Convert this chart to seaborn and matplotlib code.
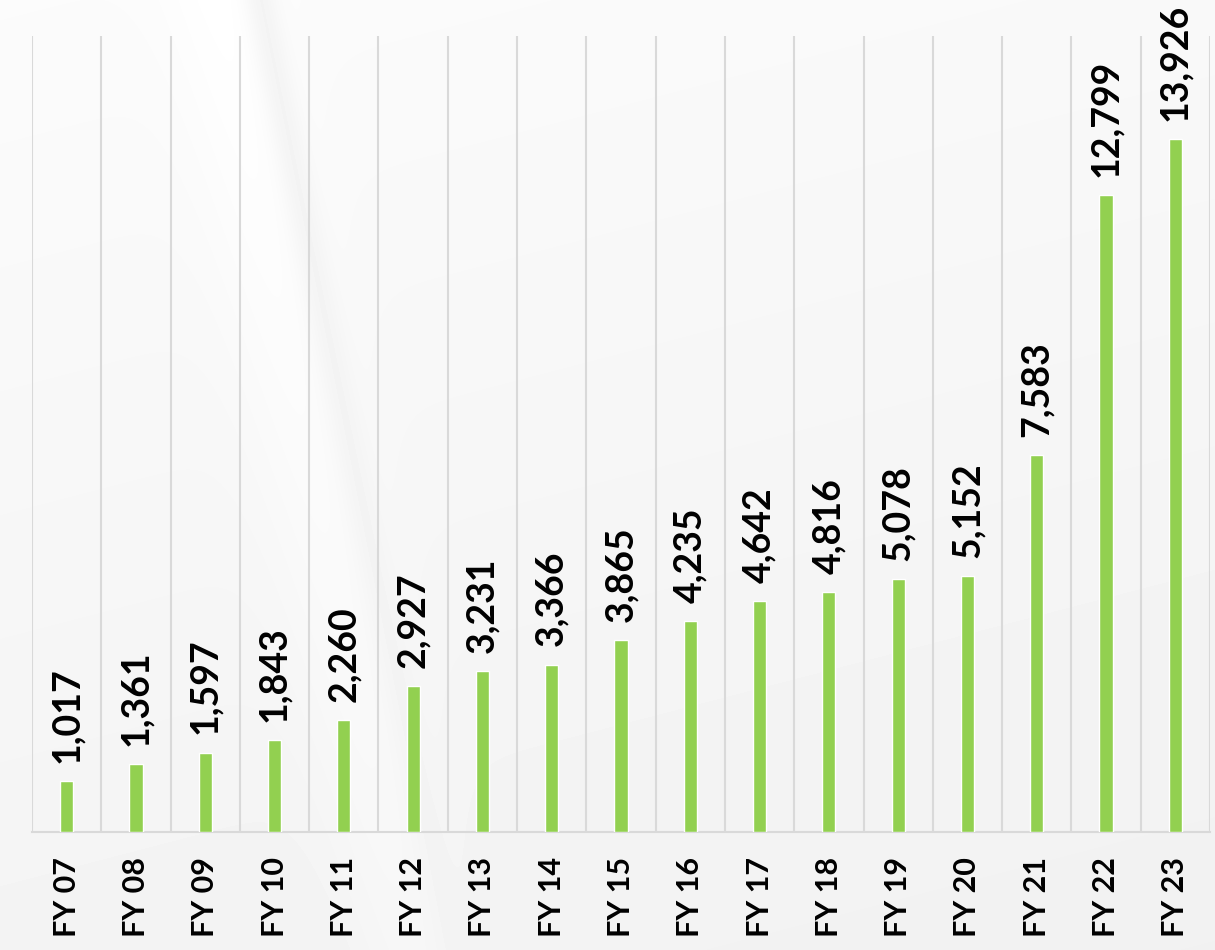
import numpy as np
import pandas as pd
import matplotlib
matplotlib.use("Agg")
import matplotlib.pyplot as plt
import seaborn as sns

categories = ["FY 07", "FY 08", "FY 09", "FY 10", "FY 11", "FY 12", "FY 13", "FY 14", "FY 15",
              "FY 16", "FY 17", "FY 18", "FY 19", "FY 20", "FY 21", "FY 22", "FY 23"]
values = [1017, 1361, 1597, 1843, 2260, 2927, 3231, 3366, 3865,
          4235, 4642, 4816, 5078, 5152, 7583, 12799, 13926]

df = pd.DataFrame({"year": categories, "value": values})

sns.set_theme(style="white")
plt.rcParams["font.family"] = ["Lato", "DejaVu Sans"]

W, H = 1215, 950
fig = plt.figure(figsize=(W / 100, H / 100), dpi=100)
fig.patch.set_facecolor("#f4f4f4")

# background gradient with faint diagonal streak
bg = fig.add_axes([0, 0, 1, 1], zorder=-10)
yy, xx = np.mgrid[0:H, 0:W]
base = 0.985 - 0.03 * (yy / H) - 0.01 * (xx / W)
cx = 260 + 0.2 * yy
streak = -0.035 * np.exp(-((xx - cx) ** 2) / (2 * 12 ** 2)) * np.clip(1 - yy / 1100, 0, 1)
light = 0.015 * np.exp(-((xx - (cx - 40)) ** 2) / (2 * 40 ** 2))
img = np.clip(base + streak + light, 0, 1)
bg.imshow(img, cmap="gray", vmin=0, vmax=1, aspect="auto", extent=[0, 1, 0, 1])
bg.axis("off")

ax = fig.add_axes([32 / W, 1 - 832 / H, (1210 - 32) / W, (832 - 36) / H])
ax.patch.set_alpha(0)

sns.barplot(data=df, x="year", y="value", color="#92d050", width=0.19,
            saturation=1, ax=ax, zorder=3)

ax.set_ylim(0, 16000)
ax.set_xlim(-0.5, len(categories) - 0.5)
ax.set_yticks([])
ax.set_xlabel("")
ax.set_ylabel("")

for s in ["top", "right", "left"]:
    ax.spines[s].set_visible(False)
ax.spines["bottom"].set_color("#d9d9d9")
ax.spines["bottom"].set_linewidth(1.5)

ax.set_xticks(np.arange(-0.5, len(categories)), minor=True)
ax.grid(which="minor", axis="x", color="#d9d9d9", linewidth=1.5, zorder=0)
ax.grid(which="major", visible=False)
ax.tick_params(axis="x", which="both", length=0)
ax.tick_params(axis="x", which="major", pad=18)
ax.set_xticklabels(categories, rotation=90, fontsize=22, fontweight="bold", color="black")

for c in ax.containers:
    ax.bar_label(c, labels=[f"{v:,}" for v in values], rotation=90, padding=13,
                 fontsize=27, fontweight="bold", color="black")

fig.savefig("out.png", dpi=100, facecolor=fig.get_facecolor())
